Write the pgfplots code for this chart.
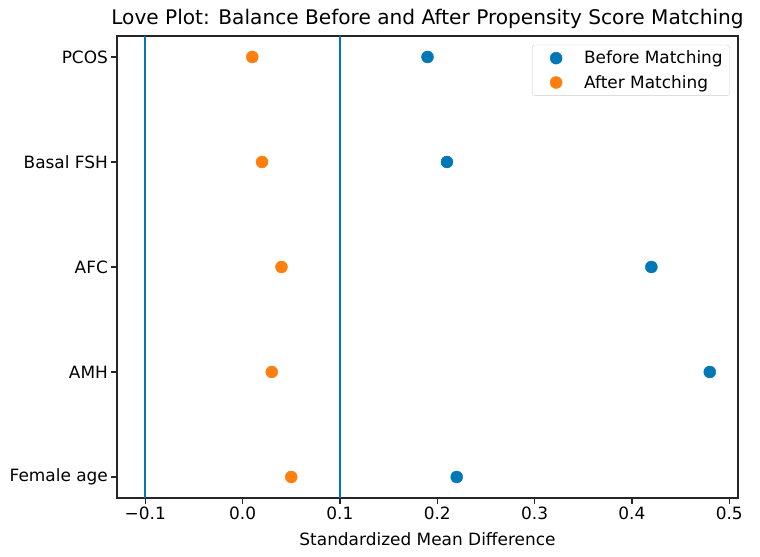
\documentclass[border=0pt]{standalone}
\usepackage{fontspec}
\setmainfont{DejaVu Sans}
\usepackage{pgfplots}
\pgfplotsset{compat=1.18}
\definecolor{bluebefore}{RGB}{0,119,182}
\definecolor{orangeafter}{RGB}{255,127,14}
\definecolor{legendframe}{RGB}{204,204,204}

% Standardized mean differences per covariate (0 = Female age ... 4 = PCOS)
\pgfplotstableread{
pos smd
0 0.22
1 0.48
2 0.42
3 0.21
4 0.19
}\beforetab
\pgfplotstableread{
pos smd
0 0.05
1 0.03
2 0.04
3 0.02
4 0.01
}\aftertab

\begin{document}
\begin{tikzpicture}
\begin{axis}[
  scale only axis,
  width=621bp, height=462bp,
  xmin=-0.129, xmax=0.509,
  ymin=-0.2, ymax=4.2,
  xtick={-0.1,0,0.1,0.2,0.3,0.4,0.5},
  xticklabels={−0.1,0.0,0.1,0.2,0.3,0.4,0.5},
  ytick={0,1,2,3,4},
  yticklabels={Female age,AMH,AFC,Basal FSH,PCOS},
  tick align=outside,
  major tick length=5.6bp,
  xtick pos=bottom, ytick pos=left,
  tick style={black!85, line width=1.2bp},
  axis line style={black!85, line width=1.2bp},
  tick label style={font=\fontsize{17}{20}\selectfont},
  xlabel={Standardized Mean Difference},
  xlabel style={font=\fontsize{17}{20}\selectfont, yshift=-6bp},
  title={Love Plot: Balance Before and After Propensity Score Matching},
  title style={font=\fontsize{20.2}{24}\selectfont, yshift=-2bp},
  legend style={
    at={(0.987,0.981)}, anchor=north east,
    draw=legendframe, rounded corners=3bp,
    font=\fontsize{17}{20}\selectfont,
    row sep=6bp, inner xsep=5bp, inner ysep=4bp,
  },
  legend image code/.code={
    \path[draw=none, fill=none] (0bp,0bp) rectangle (25bp,0.1bp);
    \draw[#1] plot coordinates {(19bp,0bp)};
  },
  legend cell align=left,
  clip=false,
]
\addplot[bluebefore, line width=2.2bp, forget plot] coordinates {(-0.1,-0.2) (-0.1,4.2)};
\addplot[bluebefore, line width=2.2bp, forget plot] coordinates {(0.1,-0.2) (0.1,4.2)};
\addplot[only marks, mark=*, mark size=6bp, bluebefore, mark options={draw=bluebefore, fill=bluebefore}]
  table[x=smd, y=pos] {\beforetab};
\addlegendentry{\hspace{20bp}Before Matching}
\addplot[only marks, mark=*, mark size=6bp, orangeafter, mark options={draw=orangeafter, fill=orangeafter}]
  table[x=smd, y=pos] {\aftertab};
\addlegendentry{\hspace{20bp}After Matching}
\end{axis}
\pgfresetboundingbox
\path (current axis.south west) ++(-117bp,-59bp) coordinate (bbsw);
\path (current axis.north east) ++(22bp,36bp) coordinate (bbne);
\useasboundingbox (bbsw) rectangle (bbne);
\end{tikzpicture}
\end{document}
